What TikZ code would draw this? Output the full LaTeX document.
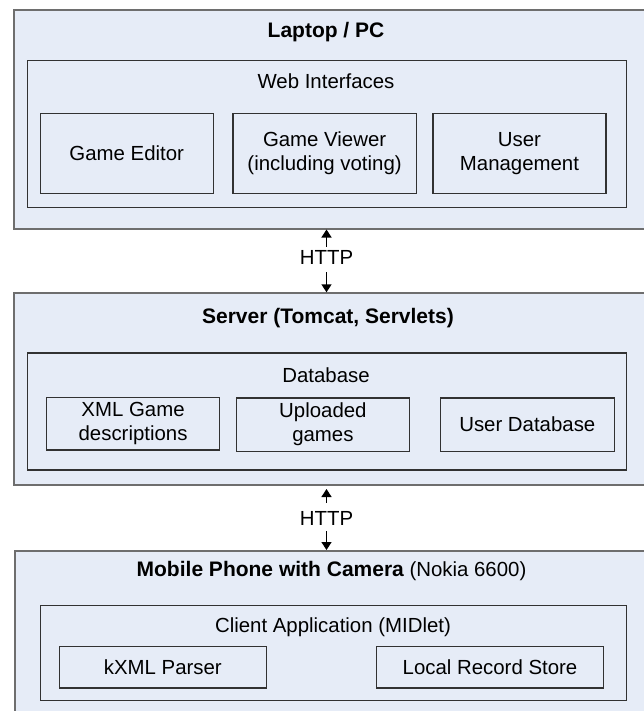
\documentclass[tikz,border=0pt]{standalone}
\usepackage{fontspec}
\setmainfont{Liberation Sans}
\usetikzlibrary{arrows.meta}
\definecolor{boxfill}{RGB}{230,236,247}
\definecolor{outerline}{RGB}{110,110,110}
\definecolor{innerline}{RGB}{50,50,50}

\begin{document}
\begin{tikzpicture}[x=1pt,y=-1pt,
  outer/.style={draw=outerline,fill=boxfill,line width=2pt,anchor=north west,inner sep=0pt},
  inner/.style={draw=innerline,line width=1.2pt,anchor=north west,inner sep=0pt},
  part/.style={inner,align=center,font=\fontsize{20.4}{24}\selectfont},
  heading/.style={anchor=base,inner sep=0pt,font=\fontsize{20.4}{24}\selectfont},
  boldheading/.style={heading,font=\fontsize{21}{24}\selectfont\bfseries},
  link/.style={line width=1.4pt,-{Triangle[width=10pt,length=8pt]}}]
\useasboundingbox (0,0) rectangle (644,711);
\clip (0,0) rectangle (644,711);

% laptop
\node[outer,minimum width=647.5,minimum height=218] (laptop) at (12.5,9.5) {};
\node[boldheading] (laptoptitle) at (326,38) {Laptop / PC};
\node[inner,minimum width=598.8,minimum height=146.7] (web) at (26.7,60) {};
\node[heading] (webtitle) at (326,88.5) {Web Interfaces};
\node[part,minimum width=173.2,minimum height=80] (editor) at (39.5,112.7) {Game Editor};
\node[part,minimum width=183.2,minimum height=80] (viewer) at (232.4,112.7) {Game Viewer\\(including voting)};
\node[part,minimum width=172.9,minimum height=80] (usermgmt) at (432.4,112.7) {User\\Management};

% server
\node[outer,minimum width=647.5,minimum height=191.7] (server) at (12.5,292.3) {};
\node[boldheading] (servertitle) at (328,323.5) {Server (Tomcat, Servlets)};
\node[inner,minimum width=598.8,minimum height=117] (db) at (26.7,352.3) {};
\node[heading] (dbtitle) at (326,382) {Database};
\node[part,minimum width=172.9,minimum height=52.6] (xmlgames) at (46,396.7) {XML Game\\descriptions};
\node[part,minimum width=172.6,minimum height=53.4] (uploaded) at (236,397.3) {Uploaded\\games};
\node[part,minimum width=173.8,minimum height=53.4] (userdb) at (439.8,397.3) {User Database};

% mobile phone
\node[outer,minimum width=646.5,minimum height=180] (phone) at (13.5,550) {};
\node[heading] (phonetitle) at (331.5,576) {{\fontsize{21}{24}\selectfont\bfseries Mobile Phone with Camera} (Nokia 6600)};
\node[inner,minimum width=585.5,minimum height=95] (client) at (40,605) {};
\node[heading] (clienttitle) at (333,632) {Client Application (MIDlet)};
\node[part,minimum width=207.5,minimum height=41.6] (kxml) at (58.5,645.7) {kXML Parser};
\node[part,minimum width=227.2,minimum height=41.6] (store) at (375.8,645.7) {Local Record Store};

% links
\node[heading] (httpa) at (326.5,264) {HTTP};
\draw[link,shorten <=3pt] (httpa.north) -- (httpa.north |- laptop.south);
\draw[link,shorten <=8pt] (httpa.south) -- (httpa.south |- server.north);
\node[heading] (httpb) at (326.5,525) {HTTP};
\draw[link,shorten <=8pt,shorten >=3pt] (httpb.north) -- (httpb.north |- server.south);
\draw[link,shorten <=6pt] (httpb.south) -- (httpb.south |- phone.north);
\end{tikzpicture}
\end{document}
